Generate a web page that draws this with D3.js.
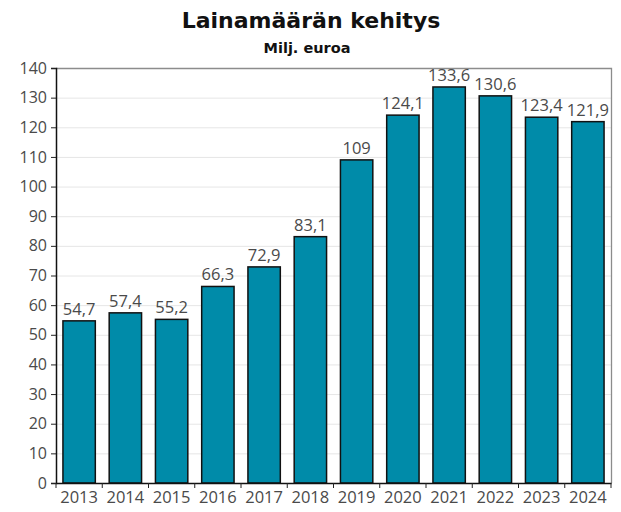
<!DOCTYPE html>
<html><head><meta charset="utf-8">
<script src="https://cdn.jsdelivr.net/npm/d3@7"></script>
<style>body{margin:0;background:#fff}</style>
</head><body>
<svg id="c" width="621" height="512"></svg>
<script>
const years = ["2013","2014","2015","2016","2017","2018","2019","2020","2021","2022","2023","2024"];
const values = [54.7,57.4,55.2,66.3,72.9,83.1,109,124.1,133.6,130.6,123.4,121.9];
const labels = ["54,7","57,4","55,2","66,3","72,9","83,1","109","124,1","133,6","130,6","123,4","121,9"];
const yTicks = [0,10,20,30,40,50,60,70,80,90,100,110,120,130,140];

const svg = d3.select("#c");
const m = {l:56, r:611, t:68, b:483};
const x = d3.scaleBand().domain(years).range([m.l, m.r]).paddingInner(0.3).paddingOuter(0.15);
const y = d3.scaleLinear().domain([0,140]).range([m.b, m.t]);

svg.append("g").selectAll("line").data(yTicks.filter(d=>d>0 && d<140)).join("line")
  .attr("x1", m.l).attr("x2", m.r).attr("y1", d=>y(d)+0.5).attr("y2", d=>y(d)+0.5)
  .attr("stroke","#e6e6e6").attr("stroke-width",1);
svg.append("path").attr("d",`M${m.l},${m.t+0.5}H${m.r+0.5}V${m.b}`).attr("fill","none").attr("stroke","#8c8c8c").attr("stroke-width",1.3);

svg.append("g").selectAll("rect").data(values).join("rect")
  .attr("x",(d,i)=>x(years[i])).attr("width",x.bandwidth())
  .attr("y",d=>y(d)).attr("height",d=>y(0)-y(d))
  .attr("fill","#008ba9").attr("stroke","#111").attr("stroke-width",1.5);

const FONT = "Open Sans, sans-serif";
svg.append("g").selectAll("text").data(values).join("text")
  .attr("x",(d,i)=>x(years[i])+x.bandwidth()/2).attr("y",d=>y(d)-6)
  .attr("text-anchor","middle").attr("font-family",FONT).attr("font-size",16.5)
  .attr("fill","#4a4a4a").text((d,i)=>labels[i]);

const ya = svg.append("g").attr("transform",`translate(${m.l},0)`)
  .call(d3.axisLeft(y).tickValues(yTicks).tickSize(5).tickPadding(4).tickFormat(d=>d));
ya.select(".domain").attr("stroke","#111").attr("stroke-width",1.5);
ya.selectAll(".tick line").attr("stroke","#222");
ya.selectAll("text").attr("font-family",FONT).attr("font-size",16).attr("fill","#4a4a4a");

const xa = svg.append("g").attr("transform",`translate(0,${m.b})`)
  .call(d3.axisBottom(x).tickSize(0).tickPadding(8));
xa.select(".domain").attr("stroke","#111").attr("stroke-width",1.5);
xa.selectAll("text").attr("font-family",FONT).attr("font-size",16.5).attr("fill","#4a4a4a");
const bounds = d3.range(years.length+1).map(i=>m.l + (m.r-m.l)*i/years.length);
svg.append("g").selectAll("line").data(bounds).join("line")
  .attr("x1",d=>d).attr("x2",d=>d).attr("y1",m.b).attr("y2",m.b+5)
  .attr("stroke","#222").attr("stroke-width",1);

svg.append("text").attr("x",311).attr("y",28).attr("text-anchor","middle")
  .attr("font-family","DejaVu Sans, sans-serif").attr("font-weight","bold").attr("font-size",22)
  .attr("fill","#111").text("Lainamäärän kehitys");
svg.append("text").attr("x",307).attr("y",53).attr("text-anchor","middle")
  .attr("font-family","DejaVu Sans, sans-serif").attr("font-weight","bold").attr("font-size",14.5)
  .attr("fill","#111").text("Milj. euroa");
</script>
</body></html>
